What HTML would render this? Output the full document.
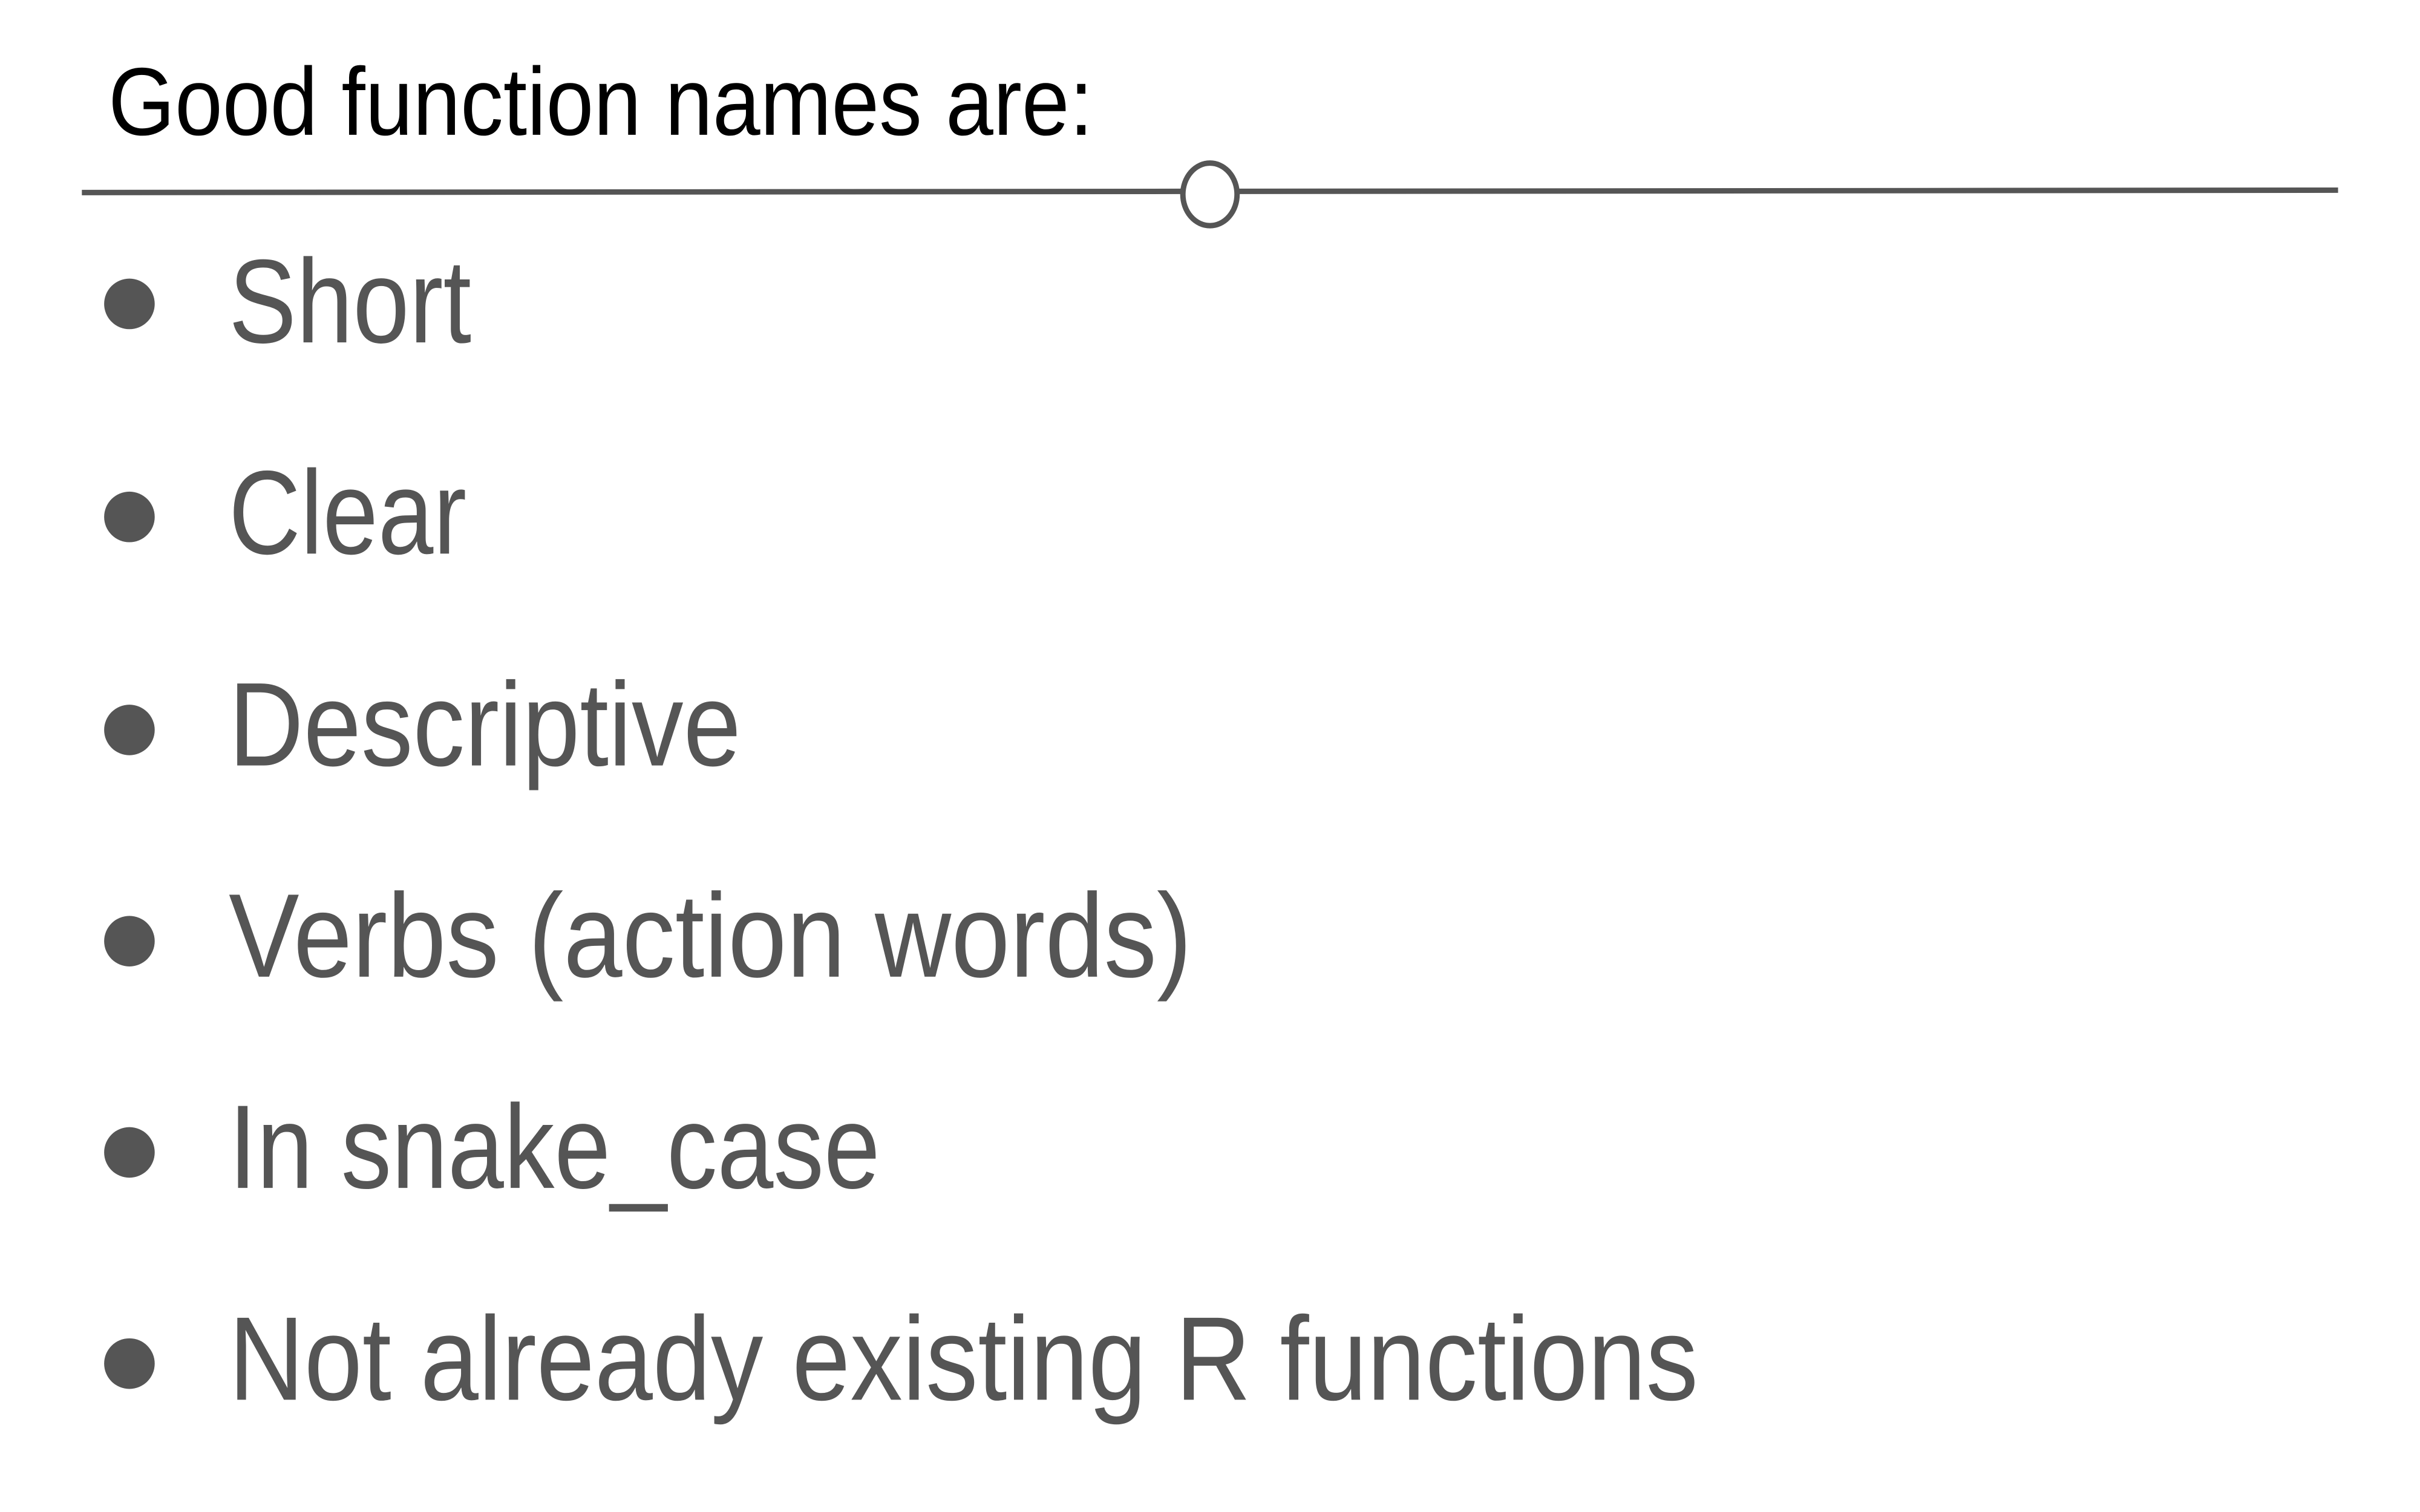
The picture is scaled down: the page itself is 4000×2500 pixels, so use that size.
<!DOCTYPE html>
<html><head><meta charset="utf-8"><style>html,body{margin:0;padding:0;background:#fff;}svg{display:block}</style></head>
<body>
<svg width="4000" height="2500" viewBox="0 0 4000 2500" xmlns="http://www.w3.org/2000/svg">
<rect width="4000" height="2500" fill="#fff"/>
<g transform="scale(0.995)">
<text x="180" y="224" font-family="Liberation Sans, sans-serif" font-size="160" fill="#000" textLength="1636" lengthAdjust="spacingAndGlyphs">Good function names are:</text>
<line x1="136" y1="320" x2="1962" y2="318" stroke="#555" stroke-width="9"/>
<line x1="2058" y1="318" x2="3884" y2="316" stroke="#555" stroke-width="9"/>
<ellipse cx="2010" cy="323" rx="45" ry="52" fill="#fff" stroke="#555" stroke-width="9"/>
<g fill="#555">
<circle cx="215" cy="505" r="42"/>
<circle cx="215" cy="859" r="42"/>
<circle cx="215" cy="1213" r="42"/>
<circle cx="215" cy="1564" r="42"/>
<circle cx="215" cy="1915" r="42"/>
<circle cx="215" cy="2266" r="42"/>
</g>
<g font-family="Liberation Sans, sans-serif" font-size="198" fill="#555">
<text x="380" y="569" textLength="403" lengthAdjust="spacingAndGlyphs">Short</text>
<text x="380" y="920" textLength="395" lengthAdjust="spacingAndGlyphs">Clear</text>
<text x="380" y="1272" textLength="851" lengthAdjust="spacingAndGlyphs">Descriptive</text>
<text x="380" y="1623" textLength="1600" lengthAdjust="spacingAndGlyphs">Verbs (action words)</text>
<text x="380" y="1974" textLength="1082" lengthAdjust="spacingAndGlyphs">In snake_case</text>
<text x="380" y="2326" textLength="2441" lengthAdjust="spacingAndGlyphs">Not already existing R functions</text>
</g>
</g>
</svg>
</body></html>
